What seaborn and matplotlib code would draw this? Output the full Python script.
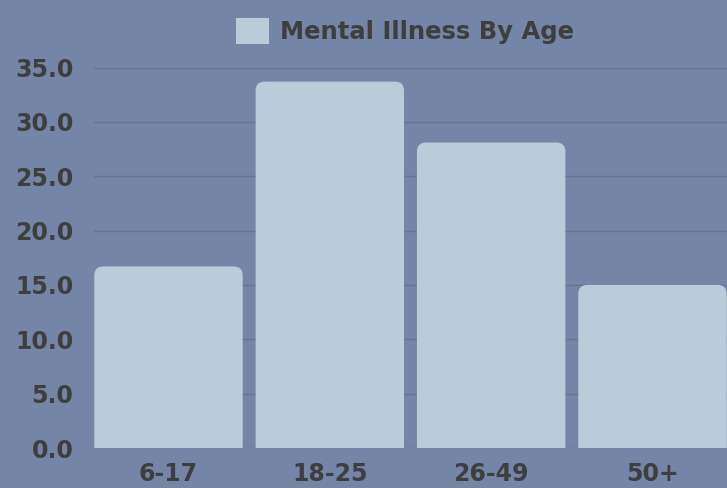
import matplotlib
matplotlib.use("Agg")
import matplotlib.pyplot as plt
import seaborn as sns
import pandas as pd
from matplotlib.patches import FancyBboxPatch

# data
ages = ["6-17", "18-25", "26-49", "50+"]
percent = [16.7, 33.7, 28.1, 15.0]
series_label = "Mental Illness By Age"

bg = "#7585A8"
bar_color = "#B8CDD9"
text_color = "#3E3E3E"
grid_color = "#66748F"

sns.set_style("white")
plt.rcParams['font.family'] = ['DejaVu Sans']

df = pd.DataFrame({"age": ages, "percent": percent})

fig = plt.figure(figsize=(7.27, 4.88), dpi=100, facecolor=bg)
ax = fig.add_axes([94.3 / 727, 40 / 488, (727 - 94.3) / 727, 380.5 / 488])
ax.set_facecolor(bg)

sns.barplot(data=df, x="age", y="percent", color=bar_color, width=0.92,
            saturation=1, ax=ax, zorder=3)

ax.set_ylim(0, 35)
ax.set_xlim(-0.46, 3.462)

# rounded tops: swap seaborn's rectangles for rounded boxes (bottom clipped at 0)
px_x = (727 - 94.3) / (3.462 + 0.46)
px_y = 380.5 / 35
r = 9 / px_x
for p in list(ax.patches):
    x0, w, h = p.get_x(), p.get_width(), p.get_height()
    p.remove()
    box = FancyBboxPatch((x0, -2), w, h + 2,
                         boxstyle=f"round,pad=0,rounding_size={r}",
                         mutation_aspect=px_x / px_y,
                         facecolor=bar_color, edgecolor="none", zorder=3)
    ax.add_patch(box)

ax.set_yticks([0, 5, 10, 15, 20, 25, 30, 35])
ax.set_yticklabels([f"{v:.1f}" for v in [0, 5, 10, 15, 20, 25, 30, 35]])
ax.yaxis.grid(True, color=grid_color, linewidth=1, zorder=0)
ax.xaxis.grid(False)
for s in ax.spines.values():
    s.set_visible(False)
ax.tick_params(axis="both", length=0, labelsize=17, labelcolor=text_color)
ax.tick_params(axis="y", pad=15)
ax.tick_params(axis="x", pad=10)
for lab in ax.get_xticklabels() + ax.get_yticklabels():
    lab.set_fontweight("bold")
ax.set_xlabel("")
ax.set_ylabel("")

handle = plt.Rectangle((0, 0), 1, 1, facecolor=bar_color, edgecolor="none")
fig.legend([handle], [series_label], loc="center", bbox_to_anchor=(405 / 727, 1 - 31 / 488),
           frameon=False, handlelength=1.32, handleheight=1.32, handletextpad=0.45,
           prop={"size": 17.5, "weight": "bold"}, labelcolor=text_color)

fig.savefig("out.png", dpi=100, facecolor=bg)
